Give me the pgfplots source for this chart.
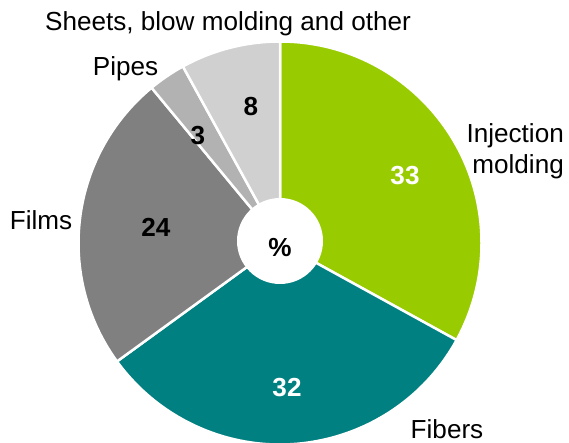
\documentclass[border=0pt]{standalone}
\usepackage{pgfplots}
\pgfplotsset{compat=1.18}
\usepackage{pgfplotstable}
\usepackage{fontspec}
\setmainfont{Liberation Sans}
\definecolor{injgreen}{HTML}{99CC00}
\definecolor{fibteal}{HTML}{008080}
\definecolor{filmgray}{HTML}{808080}
\definecolor{pipegray}{HTML}{B2B2B2}
\definecolor{sheetgray}{HTML}{D0D0D0}

% shares in percent, clockwise from 12 o'clock
\pgfplotstableread{
segment value
Injection 33
Fibers 32
Films 24
Pipes 3
Sheets 8
}\piedata
\pgfplotstablegetelem{0}{value}\of\piedata\let\vA\pgfplotsretval
\pgfplotstablegetelem{1}{value}\of\piedata\let\vB\pgfplotsretval
\pgfplotstablegetelem{2}{value}\of\piedata\let\vC\pgfplotsretval
\pgfplotstablegetelem{3}{value}\of\piedata\let\vD\pgfplotsretval
\pgfplotstablegetelem{4}{value}\of\piedata\let\vE\pgfplotsretval
\pgfmathsetmacro\aA{90}
\pgfmathsetmacro\aB{\aA-3.6*\vA}
\pgfmathsetmacro\aC{\aB-3.6*\vB}
\pgfmathsetmacro\aD{\aC-3.6*\vC}
\pgfmathsetmacro\aE{\aD-3.6*\vD}
\pgfmathsetmacro\aF{\aE-3.6*\vE}

\newcommand\pieslice[3]{\filldraw[fill=#3,draw=white,line width=2.5bp,line join=round]
  (axis cs:280,200) -- ++(#1:201.5bp) arc[start angle=#1,end angle=#2,radius=201.5bp] -- cycle;}

\begin{document}
\begin{tikzpicture}
\begin{axis}[
  hide axis, scale only axis,
  width=569bp, height=443bp,
  xmin=0, xmax=569, ymin=0, ymax=443,
  clip=true,
]
\coordinate (SW) at (axis cs:0,0);
\coordinate (NE) at (axis cs:569,443);
\pieslice{\aA}{\aB}{injgreen}
\pieslice{\aB}{\aC}{fibteal}
\pieslice{\aC}{\aD}{filmgray}
\pieslice{\aD}{\aE}{pipegray}
\pieslice{\aE}{\aF}{sheetgray}
\fill[white] (axis cs:280,202) circle[radius=43bp];
\begin{scope}[every node/.style={font=\fontsize{26.2}{30}\selectfont, inner sep=0pt}]
\node[anchor=base] at (axis cs:228,412) {Sheets, blow molding and other};
\node[anchor=base] at (axis cs:125.5,367) {Pipes};
\node[anchor=base east] at (axis cs:564,300) {Injection};
\node[anchor=base east] at (axis cs:564,269) {molding};
\node[anchor=base] at (axis cs:41,213) {Films};
\node[anchor=base] at (axis cs:447,5) {Fibers};
\node[anchor=base, font=\fontsize{26.2}{30}\selectfont\bfseries] at (axis cs:251,327) {\vE};
\node[anchor=base, font=\fontsize{26.2}{30}\selectfont\bfseries] at (axis cs:198,298) {\vD};
\node[anchor=base, font=\fontsize{26.2}{30}\selectfont\bfseries, text=white] at (axis cs:405,258) {\vA};
\node[anchor=base, font=\fontsize{26.2}{30}\selectfont\bfseries] at (axis cs:156,206) {\vC};
\node[anchor=base, font=\fontsize{26.2}{30}\selectfont\bfseries, text=white] at (axis cs:287,46) {\vB};
\node[anchor=base, font=\fontsize{26.2}{30}\selectfont\bfseries] at (axis cs:280,186) {\%};
\end{scope}
\end{axis}
\pgfresetboundingbox
\path[use as bounding box] (SW) rectangle (NE);
\end{tikzpicture}
\end{document}
